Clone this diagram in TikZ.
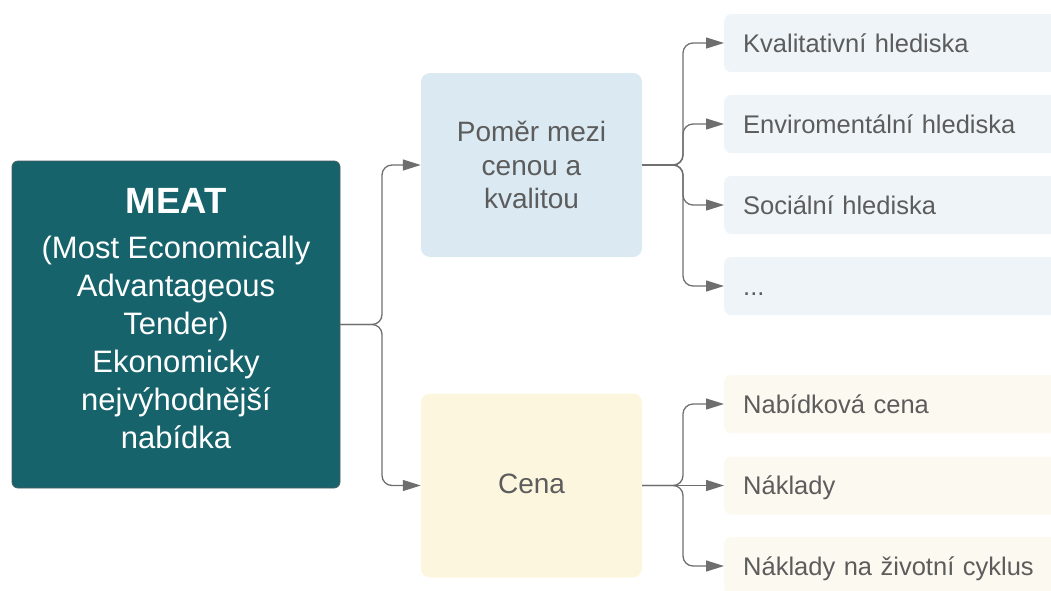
\documentclass[tikz,border=0pt]{standalone}
\usepackage{fontspec}
\setmainfont{Liberation Sans}
\usetikzlibrary{arrows.meta}
\definecolor{rootfill}{RGB}{23,99,107}
\definecolor{rootedge}{RGB}{70,95,98}
\definecolor{qualfill}{RGB}{218,233,242}
\definecolor{pricefill}{RGB}{253,246,222}
\definecolor{qualleaf}{RGB}{238,244,248}
\definecolor{priceleaf}{RGB}{252,249,240}
\definecolor{labelgray}{RGB}{92,92,92}
\definecolor{linegray}{RGB}{110,110,110}
\begin{document}
\begin{tikzpicture}[x=1pt,y=-1pt,
  rootbox/.style={draw=rootedge, line width=0.8pt, fill=rootfill, rounded corners=6pt,
    minimum width=328pt, minimum height=327pt, inner sep=0pt},
  rootlabel/.style={text=white, align=center,
    font=\fontsize{31}{38}\selectfont, inner sep=0pt},
  midbox/.style={rounded corners=9pt, minimum width=221pt, minimum height=184pt,
    text=labelgray, align=center, font=\fontsize{28}{33.5}\selectfont, inner sep=0pt},
  leafbox/.style={anchor=west, rounded corners=7pt, minimum height=58pt,
    text width=300pt, inner xsep=19pt, inner ysep=0pt, align=left,
    text height=23pt, text depth=5pt,
    text=labelgray, font=\fontsize{25.5}{30}\selectfont},
  conn/.style={draw=linegray, line width=1.3pt, rounded corners=10pt,
    -{Triangle[length=18pt,width=11pt]}}
]
\useasboundingbox (0,0) rectangle (1051,590);

% root node and its label
\node[rootbox] (root) at (176,324.5) {};
\node[rootlabel] (rootlabel) at (176,319)
  {{\fontsize{36.5}{40}\selectfont\bfseries MEAT}\\[7pt]
   (Most Economically\\Advantageous\\Tender)\\Ekonomicky\\nejvýhodnější\\nabídka};

% second level
\node[midbox, fill=qualfill] (qual) at (531.5,165) {Poměr mezi\\cenou a\\kvalitou};
\node[midbox, fill=pricefill] (price) at (531.5,485.5) {\raisebox{3pt}{Cena}};

% leaves: quality criteria
\node[leafbox, fill=qualleaf] (q1) at (724,43) {Kvalitativní hlediska};
\node[leafbox, fill=qualleaf] (q2) at (724,124) {Enviromentální hlediska};
\node[leafbox, fill=qualleaf] (q3) at (724,205) {Sociální hlediska};
\node[leafbox, fill=qualleaf] (q4) at (724,286) {...};

% leaves: price criteria
\node[leafbox, fill=priceleaf] (p1) at (724,404) {Nabídková cena};
\node[leafbox, fill=priceleaf] (p2) at (724,485.5) {Náklady};
\node[leafbox, fill=priceleaf] (p3) at (724,566) {Náklady na životní cyklus};

% branching points
\coordinate (j0) at (382,324.5);
\coordinate (j1) at (683,165);
\coordinate (j2) at (683,485.5);

% connectors
\draw[conn] (root.east) -- (j0) |- (qual.west);
\draw[conn] (root.east) -- (j0) |- (price.west);

\draw[conn] (qual.east) -- (j1) |- (q1.west);
\draw[conn] (qual.east) -- (j1) |- (q2.west);
\draw[conn] (qual.east) -- (j1) |- (q3.west);
\draw[conn] (qual.east) -- (j1) |- (q4.west);

\draw[conn] (price.east) -- (j2) |- (p1.west);
\draw[conn] (price.east) -- (p2.west);
\draw[conn] (price.east) -- (j2) |- (p3.west);
\end{tikzpicture}
\end{document}
